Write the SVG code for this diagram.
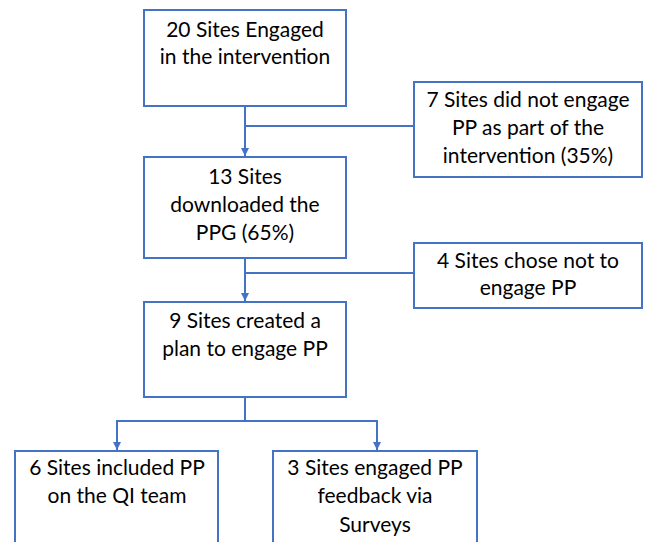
<svg xmlns="http://www.w3.org/2000/svg" width="646" height="542" viewBox="0 0 646 542">
<style>
.box{fill:#ffffff;stroke:#4472C4;stroke-width:2}
.ln{fill:none;stroke:#4472C4;stroke-width:2}
text{font-family:"Lato","Liberation Sans",sans-serif;font-size:21px;fill:#000;text-anchor:middle}
</style>
<defs>
<marker id="ah" markerWidth="8" markerHeight="8" refX="8" refY="4" orient="auto" markerUnits="userSpaceOnUse">
<path d="M0,0 L8,4 L0,8 Z" fill="#4472C4"/>
</marker>
</defs>
<rect width="646" height="542" fill="#ffffff"/>
<g id="connectors">
<path class="ln" d="M245,106 V156" marker-end="url(#ah)"/>
<path class="ln" d="M245,126 H414"/>
<path class="ln" d="M245,258 V301" marker-end="url(#ah)"/>
<path class="ln" d="M245,273 H414"/>
<path class="ln" d="M245,397 V421 H117 V450" marker-end="url(#ah)"/>
<path class="ln" d="M245,421 H377 V450" marker-end="url(#ah)"/>
</g>
<g id="n1"><rect class="box" x="144" y="10" width="202" height="96"/><text x="245" y="37">20 Sites Engaged</text><text x="245" y="64">in the intervention</text></g>
<g id="n2"><rect class="box" x="414" y="82" width="228" height="95"/><text x="528" y="107">7 Sites did not engage</text><text x="528" y="135">PP as part of the</text><text x="528" y="163">intervention (35%)</text></g>
<g id="n3"><rect class="box" x="144" y="157" width="202" height="101"/><text x="245" y="184">13 Sites</text><text x="245" y="212">downloaded the</text><text x="245" y="240">PPG (65%)</text></g>
<g id="n4"><rect class="box" x="414" y="243" width="228" height="65"/><text x="528" y="268">4 Sites chose not to</text><text x="528" y="295">engage PP</text></g>
<g id="n5"><rect class="box" x="144" y="302" width="202" height="95"/><text x="245" y="328">9 Sites created a</text><text x="245" y="356">plan to engage PP</text></g>
<g id="n6"><rect class="box" x="15" y="451" width="203" height="100"/><text x="117" y="475">6 Sites included PP</text><text x="117" y="503">on the QI team</text></g>
<g id="n7"><rect class="box" x="273" y="451" width="204" height="100"/><text x="375" y="475">3 Sites engaged PP</text><text x="375" y="503">feedback via</text><text x="375" y="532">Surveys</text></g>
</svg>
